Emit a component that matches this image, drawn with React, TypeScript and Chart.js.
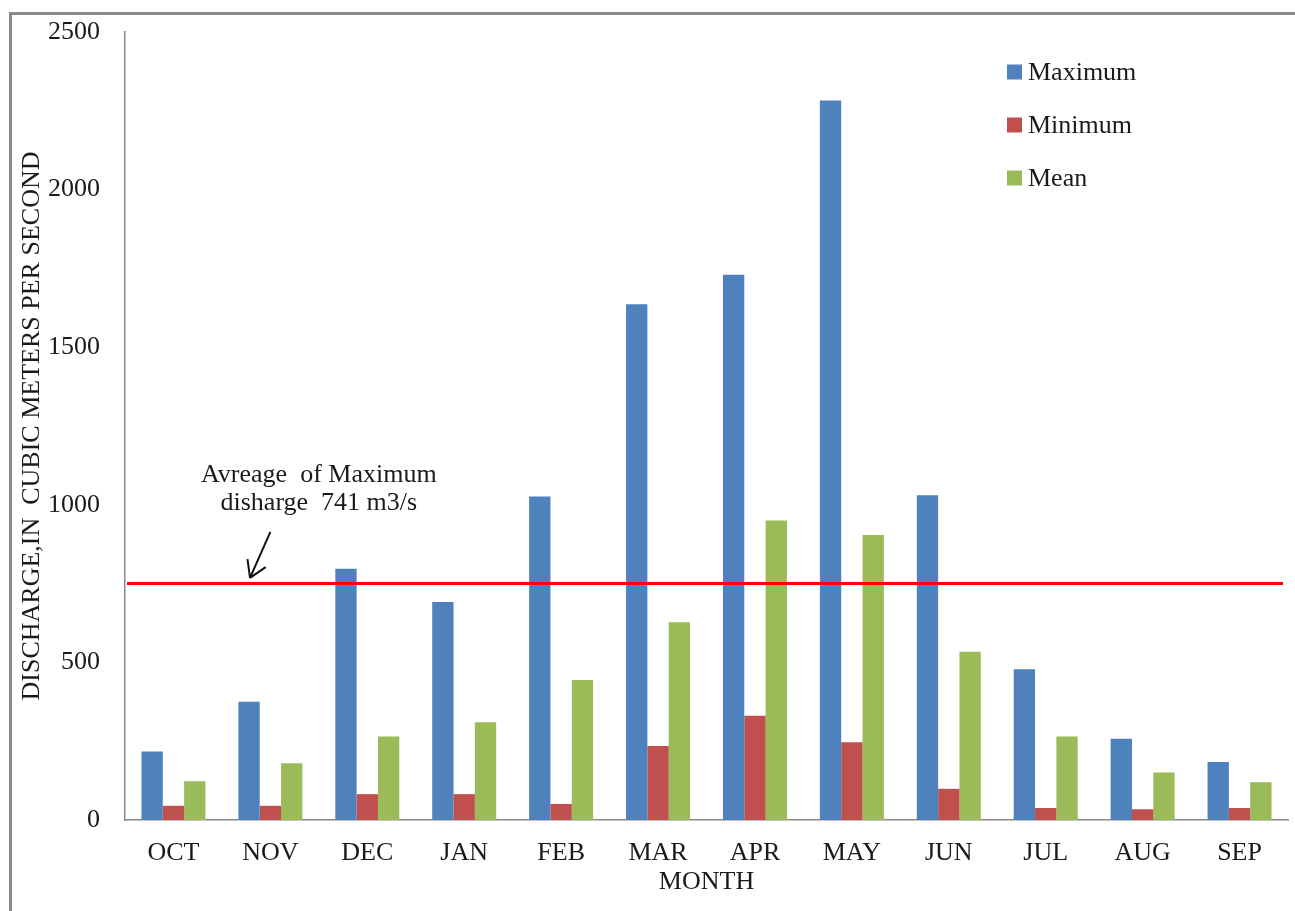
import React, { useEffect, useRef } from "react";
import { Chart, registerables } from "chart.js";

Chart.register(...registerables);

const months = ["OCT", "NOV", "DEC", "JAN", "FEB", "MAR", "APR", "MAY", "JUN", "JUL", "AUG", "SEP"];
const maximum = [217, 375, 797, 692, 1026, 1636, 1730, 2283, 1030, 478, 258, 184];
const minimum = [45, 45, 82, 82, 51, 235, 331, 247, 99, 38, 34, 38];
const mean = [123, 180, 265, 310, 444, 627, 950, 904, 534, 265, 151, 120];
const yTicks = [0, 500, 1000, 1500, 2000, 2500];
const averageOfMaximum = 750;
const annotationLines = ["Avreage  of Maximum", "disharge  741 m3/s"];

const FONT = '"Liberation Serif", "Times New Roman", serif';

const decorPlugin = {
  id: "decor",
  afterDatasetsDraw(chart: any) {
    const { ctx, chartArea, scales } = chart;
    const x = scales.x;
    const y = scales.y;
    ctx.save();
    const ly = y.getPixelForValue(averageOfMaximum);
    ctx.strokeStyle = "#FF0000";
    ctx.lineWidth = 3;
    ctx.beginPath();
    ctx.moveTo(chartArea.left + 2, ly);
    ctx.lineTo(chartArea.right - 5, ly);
    ctx.stroke();

    ctx.fillStyle = "#1a1a1a";
    ctx.font = `26px ${FONT}`;
    ctx.textAlign = "center";
    ctx.textBaseline = "middle";
    const tx = x.getPixelForValue(1.5);
    ctx.fillText(annotationLines[0], tx, y.getPixelForValue(1094));
    ctx.fillText(annotationLines[1], tx, y.getPixelForValue(1006));

    const sx = x.getPixelForValue(1.0);
    const sy = y.getPixelForValue(914);
    const ex = x.getPixelForValue(0.79);
    const ey = y.getPixelForValue(768);
    ctx.strokeStyle = "#111";
    ctx.lineWidth = 2;
    ctx.beginPath();
    ctx.moveTo(sx, sy);
    ctx.lineTo(ex, ey);
    const ang = Math.atan2(sy - ey, sx - ex);
    const hl = 19;
    for (const d of [-0.55, 0.55]) {
      ctx.moveTo(ex, ey);
      ctx.lineTo(ex + hl * Math.cos(ang + d), ey + hl * Math.sin(ang + d));
    }
    ctx.stroke();

    const items = chart.data.datasets;
    const lx = 1007;
    const ly0 = 72;
    const gap = 53;
    ctx.textAlign = "left";
    ctx.font = `26px ${FONT}`;
    items.forEach((ds: any, i: number) => {
      const cy = ly0 + i * gap;
      ctx.fillStyle = ds.backgroundColor;
      ctx.fillRect(lx, cy - 7.5, 15, 15);
      ctx.fillStyle = "#1a1a1a";
      ctx.fillText(ds.label, lx + 21, cy + 1);
    });
    ctx.restore();
  },
};

export default function App() {
  const ref = useRef<HTMLCanvasElement | null>(null);
  useEffect(() => {
    if (!ref.current) return;
    const chart = new Chart(ref.current, {
      type: "bar",
      data: {
        labels: months,
        datasets: [
          { label: "Maximum", data: maximum, backgroundColor: "#4F81BD" },
          { label: "Minimum", data: minimum, backgroundColor: "#C0504D" },
          { label: "Mean", data: mean, backgroundColor: "#9BBB59" },
        ],
      },
      options: {
        animation: false,
        responsive: true,
        maintainAspectRatio: false,
        datasets: { bar: { categoryPercentage: 0.66, barPercentage: 1.0 } },
        layout: { padding: { top: 32, right: 7, bottom: 0, left: 0 } },
        plugins: { legend: { display: false }, tooltip: { enabled: false } },
        scales: {
          x: {
            grid: { display: false, drawTicks: false },
            border: { display: true, color: "#8a8a8a", width: 1.5 },
            ticks: { color: "#1a1a1a", font: { family: FONT, size: 26 }, padding: 18, maxRotation: 0, autoSkip: false },
            title: { display: true, text: "MONTH", color: "#1a1a1a", font: { family: FONT, size: 26 }, padding: { top: 0, bottom: 13 } },
            afterFit: (s: any) => { s.height = 91; },
          },
          y: {
            min: 0,
            max: 2500,
            grid: { display: false, drawTicks: true, tickLength: 22 },
            border: { display: true, color: "#8a8a8a", width: 1.5 },
            afterBuildTicks: (s: any) => { s.ticks = yTicks.map((v) => ({ value: v })); },
            ticks: { color: "#1a1a1a", font: { family: FONT, size: 26 }, padding: 3, callback: (v: any) => String(v) },
            title: { display: true, text: "DISCHARGE,IN  CUBIC METERS PER SECOND", color: "#1a1a1a", font: { family: FONT, size: 26 }, padding: { top: 17, bottom: 0 } },
            afterFit: (s: any) => { s.width = 125; },
          },
        },
      },
      plugins: [decorPlugin],
    } as any);
    return () => chart.destroy();
  }, []);

  return (
    <div style={{ position: "absolute", left: 0, top: 0, width: 1295, height: 911, background: "#fff", overflow: "hidden" }}>
      <div style={{ position: "absolute", left: 9, top: 12, right: 0, bottom: 0, borderTop: "3px solid #8a8a8a", borderLeft: "3px solid #8a8a8a" }} />
      <canvas ref={ref} style={{ position: "absolute", left: 0, top: 0, width: 1295, height: 911 }} />
    </div>
  );
}
